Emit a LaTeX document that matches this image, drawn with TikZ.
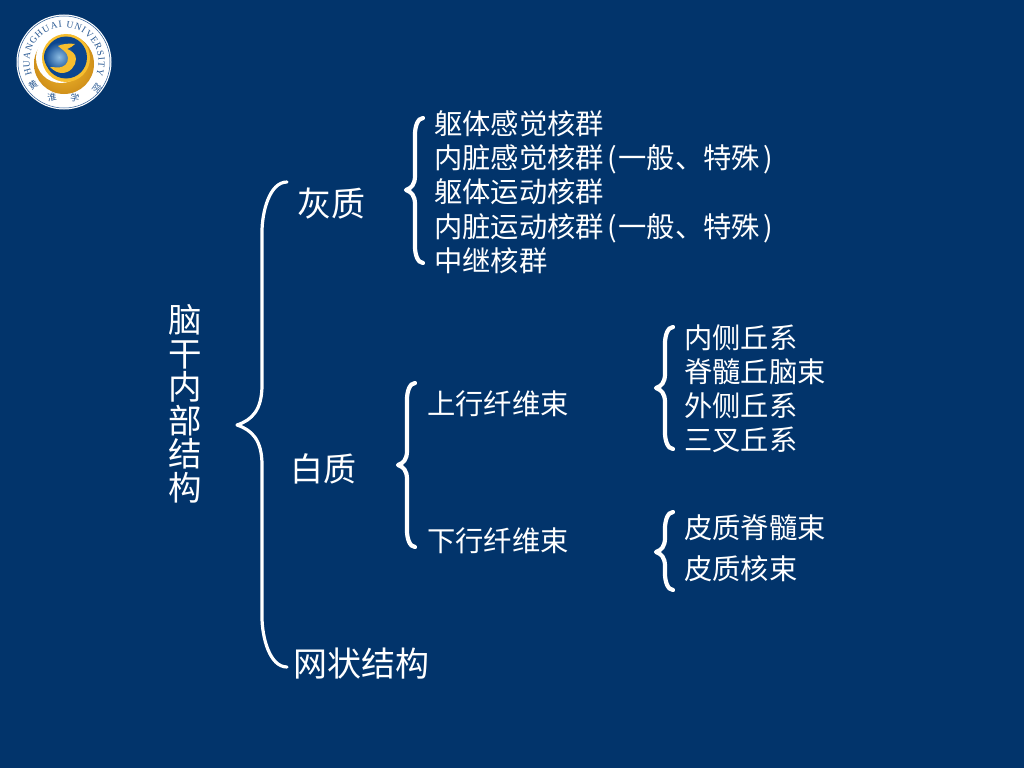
\documentclass[tikz,border=0pt]{standalone}
\usepackage{fontspec}
\newfontfamily\cjk{Noto Sans CJK SC}
\newfontfamily\logofont{Liberation Serif}
\usetikzlibrary{decorations.text, shadings}

\definecolor{slidebg}{HTML}{02346B}
\definecolor{logogold}{HTML}{F7BE2E}
\definecolor{logodark}{HTML}{D0901A}
\definecolor{logoblue}{HTML}{0B468F}
\definecolor{logolight}{HTML}{8CBCE2}
\definecolor{logotext}{HTML}{2A5A94}

\tikzset{
	label/.style={text=white, inner sep=0pt, text height=.88*#1 pt, text depth=.12*#1 pt, font=\cjk\fontsize{#1}{#1}\selectfont},
	item/.style={label=28.3, anchor=west},
	head/.style={label=34, anchor=west},
	column/.style={text=white, inner sep=0pt, align=center, font=\cjk\fontsize{33.5}{33.5}\selectfont},
	seal/.style={text=logotext, inner sep=0pt, font=\cjk\fontsize{9}{9}\selectfont},
	curly/.style={draw=white, line cap=round, line join=round}
}

\begin{document}
\begin{tikzpicture}[x=1pt, y=-1pt]
	\fill [slidebg] (0,0) rectangle (1024,768);
	\useasboundingbox (0,0) rectangle (1024,768);

	% logo
	\begin{scope}[shift={(64,62)}, yscale=-1]
		\fill [white] (0,0) circle [radius=47.5];
		\draw [logotext, line width=.5pt] (0,0) circle [radius=46];
		\shade [inner color=logogold, outer color=logodark] (0,-2) circle [radius=30];
		\fill [white] (-3,4) circle [radius=25];
		\fill [logogold] (2,4) circle [radius=24];
		\fill [logoblue] (2,4.5) circle [radius=21];
		\shade [inner color=logolight, outer color=logoblue] (-5,5) circle [radius=15];
		\fill [logogold] (-14,-5) .. controls (-10,-9) and (-6,-11) .. (-2,-11)
			.. controls (6,-11) and (12,-4) .. (12,3)
			.. controls (12,8) and (8,11) .. (3,13)
			.. controls (6,14) and (9,16) .. (11,18)
			.. controls (5,19) and (-2,18) .. (-6,16)
			.. controls (-3,13) and (4,10) .. (4,4)
			.. controls (4,-2) and (0,-5) .. (-5,-5.5)
			.. controls (-8,-5.5) and (-11,-5) .. (-14,-5);
		\path [decorate, decoration={text along path, text align={fit to path},
			text={|\logofont\fontsize{9.5}{9.5}\selectfont\color{logotext}|HUANGHUAI UNIVERSITY}}]
			(202:34.5) arc [start angle=202, end angle=-22, radius=34.5];
		\node (logoa) [seal, rotate=35] at (-31,-23) {黄};
		\node (logob) [seal, rotate=10] at (-12,-35) {淮};
		\node (logoc) [seal, rotate=-10] at (11,-36) {学};
		\node (logod) [seal, rotate=-35] at (33,-26) {院};
	\end{scope}

	% braces: x, top, tip y, bottom, arm, point, width
	\foreach \x/\top/\mid/\bot/\arm/\pnt/\wd in {
		262/182/425/667/25/25/3.2,
		415/118/190/263/8/9/4.2,
		407/383/465/547/8/9/4.2,
		665/327/388/449/8/9/4.2,
		665/512/552/590/8/9/4.2}
	{
		\draw [curly, line width=\wd pt] (\x+\arm,\top)
			.. controls (\x+.3*\arm,\top) and (\x,\top+1.2*\arm) .. (\x,\top+2*\arm)
			-- (\x,\mid-1.6*\pnt)
			.. controls (\x,\mid-.6*\pnt) and (\x-.4*\pnt,\mid-.2*\pnt) .. (\x-\pnt,\mid)
			.. controls (\x-.4*\pnt,\mid+.2*\pnt) and (\x,\mid+.6*\pnt) .. (\x,\mid+1.6*\pnt)
			-- (\x,\bot-2*\arm)
			.. controls (\x,\bot-1.2*\arm) and (\x+.3*\arm,\bot) .. (\x+\arm,\bot);
	}

	\node (root) [column] at (185,404) {脑\\干\\内\\部\\结\\构};

	\node (gray) [head] at (297,204) {灰质};
	\node (white) [label=33, anchor=west] at (290.5,469) {白质};
	\node (net) [head] at (293,664) {网状结构};

	\node (gone) [item] at (434,124) {躯体感觉核群};
	\node (gtwo) [item] at (434,158) {内脏感觉核群\kern3pt(\kern2pt 一般、特殊\kern3pt)};
	\node (gthree) [item] at (434,192) {躯体运动核群};
	\node (gfour) [item] at (434,227) {内脏运动核群\kern3pt(\kern2pt 一般、特殊\kern3pt)};
	\node (gfive) [item] at (434,261) {中继核群};

	\node (up) [item] at (427,404) {上行纤维束};
	\node (down) [item] at (427,541) {下行纤维束};

	\node (uone) [item] at (684,338) {内侧丘系};
	\node (utwo) [item] at (684,372) {脊髓丘脑束};
	\node (uthree) [item] at (684,406) {外侧丘系};
	\node (ufour) [item] at (684,440) {三叉丘系};

	\node (done) [item] at (684,528) {皮质脊髓束};
	\node (dtwo) [item] at (684,569) {皮质核束};
\end{tikzpicture}
\end{document}
